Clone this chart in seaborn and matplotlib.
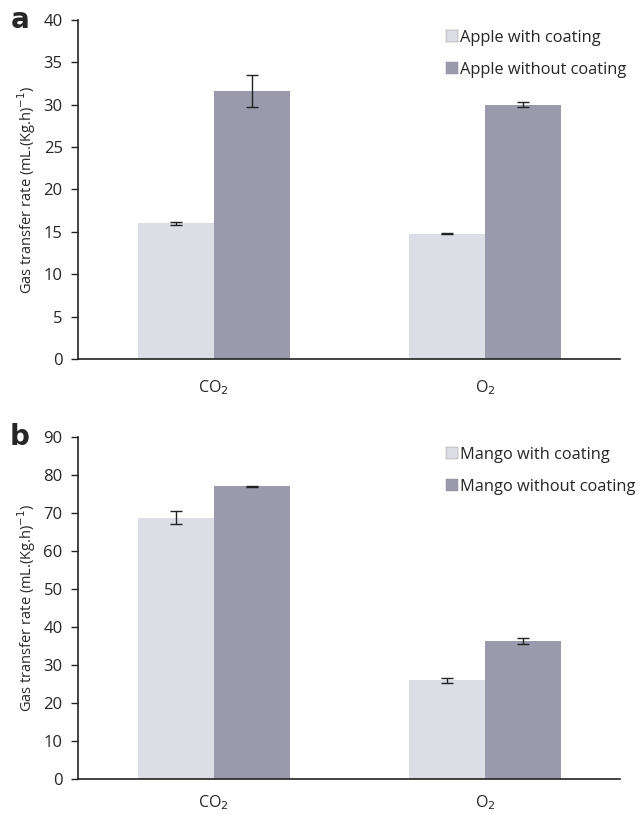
import matplotlib
matplotlib.use("Agg")
import matplotlib.pyplot as plt
import seaborn as sns
import pandas as pd
import numpy as np
from matplotlib.lines import Line2D

gases = ["CO$_2$", "O$_2$"]
apple_with = [16.0, 14.8]
apple_with_err = [0.2, 0.1]
apple_without = [31.6, 30.0]
apple_without_err = [1.9, 0.3]
mango_with = [68.8, 26.0]
mango_with_err = [1.6, 0.7]
mango_without = [77.0, 36.3]
mango_without_err = [0.2, 0.8]

sns.set_theme(style="ticks")
plt.rcParams['font.family'] = ['Open Sans', 'DejaVu Sans']

c_with = "#dcdde5"
c_without = "#9a9aac"

fig = plt.figure(figsize=(6.42, 8.15), dpi=100)
ax_a = fig.add_axes([0.1215, 0.5595, 0.845, 0.416])
ax_b = fig.add_axes([0.1215, 0.0442, 0.845, 0.4196])

def panel(ax, fruit, w, we, wo, woe, ymax, step, letter, xpad):
    lab_w = f"{fruit} with coating"
    lab_wo = f"{fruit} without coating"
    df = pd.DataFrame({
        "gas": gases * 2,
        "value": w + wo,
        "group": [lab_w] * 2 + [lab_wo] * 2,
    })
    sns.barplot(data=df, x="gas", y="value", hue="group", ax=ax,
                palette=[c_with, c_without], width=0.56, errorbar=None,
                saturation=1, edgecolor="none", legend=False)
    errs = we + woe
    vals = w + wo
    patches = ax.patches[:4]
    for p, v, e in zip(patches, vals, errs):
        cx = p.get_x() + p.get_width() / 2
        ax.errorbar(cx, v, yerr=e, fmt="none", ecolor="#222222",
                    elinewidth=1.0, capsize=4, capthick=1.0)
    ax.set_xlim(-0.5, 1.5)
    ax.set_ylim(0, ymax)
    ax.set_yticks(np.arange(0, ymax + 1, step))
    ax.set_xlabel("")
    ax.set_ylabel("Gas transfer rate (mL.(Kg.h)$^{-1}$)", fontsize=10.5, labelpad=4)
    ax.tick_params(axis="y", labelsize=12, length=5, width=1, color="#222222", pad=6)
    ax.tick_params(axis="x", labelsize=11.5, length=0, pad=xpad)
    sns.despine(ax=ax)
    for s in ("left", "bottom"):
        ax.spines[s].set_color("#222222")
        ax.spines[s].set_linewidth(1.2)
    handles = [Line2D([], [], marker="s", linestyle="none", markersize=8,
                      markerfacecolor=c, markeredgecolor="#888888", markeredgewidth=0.3)
               for c in (c_with, c_without)]
    ax.legend(handles, [lab_w, lab_wo], loc="upper left",
              bbox_to_anchor=(0.66, 1.0), frameon=False, fontsize=11.8,
              handletextpad=0.05, labelspacing=1.0, handlelength=0.8,
              borderaxespad=0.2)
    ax.text(-0.107, 1.0, letter, transform=ax.transAxes, fontsize=20,
            fontweight="bold", ha="center", va="center",
            family=["DejaVu Sans"])

panel(ax_a, "Apple", apple_with, apple_with_err, apple_without, apple_without_err, 40, 5, "a", 14)
panel(ax_b, "Mango", mango_with, mango_with_err, mango_without, mango_without_err, 90, 10, "b", 10)

fig.savefig("out.png", dpi=100)
